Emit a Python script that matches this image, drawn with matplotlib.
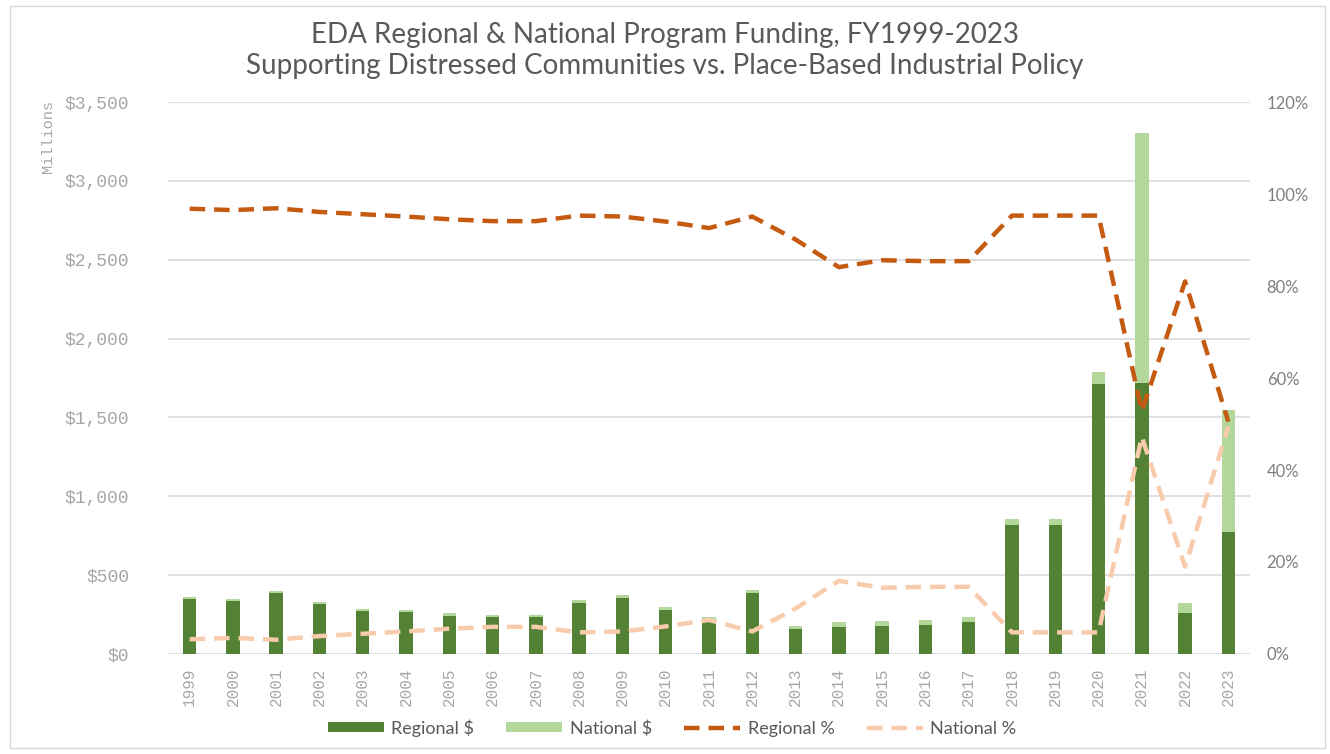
import matplotlib
matplotlib.use("Agg")
import matplotlib.pyplot as plt
import numpy as np
from matplotlib.lines import Line2D
from matplotlib.patches import Patch, Rectangle
from matplotlib.ticker import FuncFormatter, MultipleLocator

years = [str(y) for y in range(1999, 2024)]

# program funding, $ millions
regional_usd = [349, 338, 385, 317, 272, 266, 244, 235, 235, 326, 356, 280, 218,
                386, 160, 171, 179, 185, 205, 816, 816, 1710, 1716, 260, 776]
national_usd = [12, 12, 12, 13, 13, 14, 14, 15, 15, 16, 18, 18, 17,
                20, 18, 32, 30, 31, 32, 40, 40, 80, 1590, 63, 769]

# share of total funding, %
regional_pct = [96.8, 96.5, 96.9, 96.1, 95.6, 95.1, 94.5, 94.1, 94.1, 95.3, 95.1, 94.0, 92.6,
                95.1, 90.1, 84.1, 85.6, 85.4, 85.4, 95.3, 95.3, 95.3, 52.8, 81.0, 50.5]
national_pct = [3.2, 3.5, 3.1, 3.9, 4.4, 4.9, 5.5, 5.9, 5.9, 4.7, 4.9, 6.0, 7.4,
                4.9, 9.9, 15.9, 14.4, 14.6, 14.6, 4.7, 4.7, 4.7, 47.2, 19.0, 49.5]

DARK_GREEN = "#548235"
LIGHT_GREEN = "#b4d79c"
DARK_ORANGE = "#c55a11"
LIGHT_ORANGE = "#f8cbad"
GRID = "#d9d9d9"
TEXT = "#595959"
MONO = "Liberation Mono"
SANS = "Lato"

fig = plt.figure(figsize=(13.3, 7.54), dpi=100)
ax = fig.add_axes([168 / 1330, 1 - 654 / 754, (1250 - 168) / 1330, (654 - 102) / 754])
ax2 = ax.twinx()

x = np.arange(len(years))
ax.bar(x, regional_usd, width=0.31, color=DARK_GREEN, zorder=2)
ax.bar(x, national_usd, width=0.31, bottom=regional_usd, color=LIGHT_GREEN, zorder=2)

ax.set_ylim(0, 3500)
ax.yaxis.set_major_locator(MultipleLocator(500))
ax.yaxis.set_major_formatter(FuncFormatter(lambda v, _: f"${v:,.0f}"))
ax.set_xlim(-0.5, len(years) - 0.5)
ax.set_xticks(x)
ax.set_xticklabels(years, rotation=90, fontfamily=MONO, fontsize=11.5, color="#a6a6a6")
for lbl in ax.get_yticklabels():
    lbl.set_fontfamily(MONO)
    lbl.set_fontsize(13)
    lbl.set_color("#a6a6a6")
ax.tick_params(axis="both", length=0, pad=10)
ax.tick_params(axis="y", pad=28)
ax.grid(axis="y", color=GRID, linewidth=1.2, zorder=0)
ax.set_axisbelow(True)

ax2.plot(x, regional_pct, color=DARK_ORANGE, linewidth=3.2, dashes=(3.5, 2), zorder=3)
ax2.plot(x, national_pct, color=LIGHT_ORANGE, linewidth=3.2, dashes=(3.5, 2), zorder=3)
ax2.set_ylim(0, 120)
ax2.yaxis.set_major_locator(MultipleLocator(20))
ax2.yaxis.set_major_formatter(FuncFormatter(lambda v, _: f"{v:.0f}%"))
for lbl in ax2.get_yticklabels():
    lbl.set_fontfamily(SANS)
    lbl.set_fontsize(12)
    lbl.set_color("#7f7f7f")
ax2.tick_params(axis="y", length=0, pad=12)

for a in (ax, ax2):
    for s in a.spines.values():
        s.set_visible(False)

fig.text(48 / 1330, 1 - 100 / 754, "Millions", rotation=90, ha="center", va="top",
         fontfamily=MONO, fontsize=11, color="#a6a6a6")

fig.text(0.5, 1 - 35 / 754, "EDA Regional & National Program Funding, FY1999-2023",
         ha="center", va="center", fontfamily=SANS, fontsize=20, color=TEXT)
fig.text(0.5, 1 - 66 / 754, "Supporting Distressed Communities vs. Place-Based Industrial Policy",
         ha="center", va="center", fontfamily=SANS, fontsize=20, color=TEXT)

handles = [
    Patch(facecolor=DARK_GREEN, label="Regional $"),
    Patch(facecolor=LIGHT_GREEN, label="National $"),
    Line2D([], [], color=DARK_ORANGE, linewidth=3.2, dashes=(3.5, 2), label="Regional %"),
    Line2D([], [], color=LIGHT_ORANGE, linewidth=3.2, dashes=(3.5, 2), label="National %"),
]
leg = fig.legend(handles=handles, loc="center", bbox_to_anchor=(672 / 1330, 1 - 728 / 754), ncol=4,
                 frameon=False, handlelength=3.1, handleheight=0.45, handletextpad=0.4,
                 columnspacing=1.8, prop={"family": SANS, "size": 13})
for t in leg.get_texts():
    t.set_color(TEXT)

fig.patches.append(Rectangle((10 / 1330, 6 / 754), 1315 / 1330, 742 / 754, transform=fig.transFigure,
                             fill=False, edgecolor=GRID, linewidth=1))

fig.savefig("out.png", dpi=100)
